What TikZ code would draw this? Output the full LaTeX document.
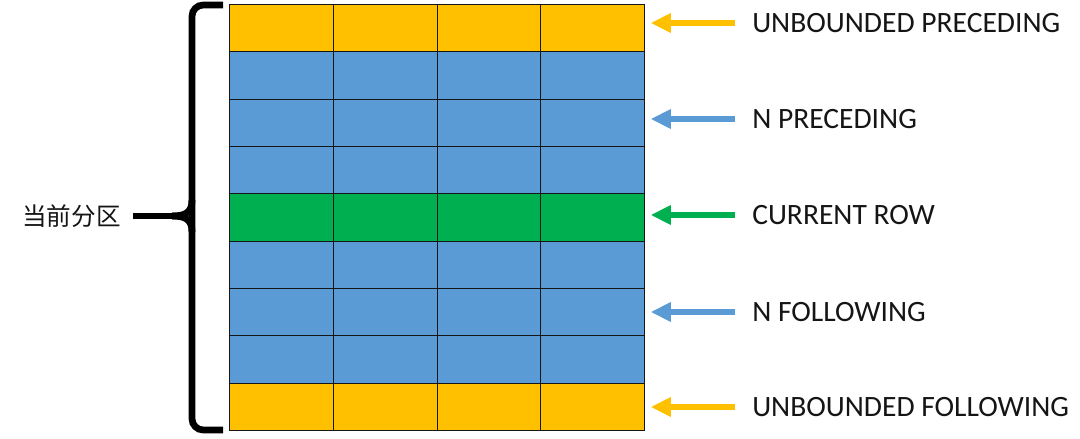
\documentclass[tikz,border=0pt]{standalone}
\usepackage{fontspec}
\setmainfont{Carlito}
\newfontfamily\cjk{Noto Sans CJK SC}
\usetikzlibrary{arrows.meta, positioning}
\definecolor{Gold}{HTML}{FFC000}
\definecolor{Sky}{HTML}{5B9BD5}
\definecolor{Leaf}{HTML}{00B050}
\definecolor{Ink}{HTML}{151515}

\begin{document}
\begin{tikzpicture}[
  x=0.025cm, y=-0.025cm,
  cell/.style={draw=Ink, line width=0.8pt, anchor=north west, inner sep=0pt,
    minimum width=2.594cm, minimum height=1.183cm},
  lbl/.style={anchor=west, inner sep=0pt, font=\fontsize{21}{24}\selectfont, text=Ink},
  part/.style={anchor=east, inner sep=0pt, font=\cjk\fontsize{17.5}{20}\selectfont, text=Ink},
  arr/.style={-{Triangle[length=0.5cm, width=0.46cm]}, line width=4.2pt,
    shorten <=0.42cm, shorten >=0.14cm},
  bracket/.style={draw=black, line width=4.8pt}
]
\useasboundingbox (0,0) rectangle (1080,439);

% rows of the partition
\foreach \r/\col in {1/Gold,2/Sky,3/Sky,4/Sky,5/Leaf,6/Sky,7/Sky,8/Sky,9/Gold}
  \foreach \c in {1,...,4}
    \node[cell, fill=\col] (c\r\c) at ({229+103.75*(\c-1)}, {4+47.333*(\r-1)}) {};

% frame labels
\node[lbl] (ubp) at (752, 23) {UNBOUNDED PRECEDING};
\node[lbl] (np)  at (752,119) {N PRECEDING};
\node[lbl] (cur) at (752,215) {CURRENT ROW};
\node[lbl] (nf)  at (752,312) {N FOLLOWING};
\node[lbl] (ubf) at (752,407) {UNBOUNDED FOLLOWING};

\draw[arr, Gold] (ubp.west) -- (ubp.west -| c14.east);
\draw[arr, Sky]  (np.west)  -- (np.west -| c34.east);
\draw[arr, Leaf] (cur.west) -- (cur.west -| c54.east);
\draw[arr, Sky]  (nf.west)  -- (nf.west -| c74.east);
\draw[arr, Gold] (ubf.west) -- (ubf.west -| c94.east);

% the partition brace
\node[part] (part) at (121,216) {当前分区};
\coordinate (tip) at (172,216);
\draw[bracket, rounded corners=8pt] (223,5) -- (192,5) -- (192,430) -- (223,430);
\draw[bracket] (192,200) .. controls (192,212) and (186,216) .. (tip);
\draw[bracket] (192,232) .. controls (192,220) and (186,216) .. (tip);
\draw[bracket, shorten <=0.3cm] (part.east) -- (tip);
\end{tikzpicture}
\end{document}
